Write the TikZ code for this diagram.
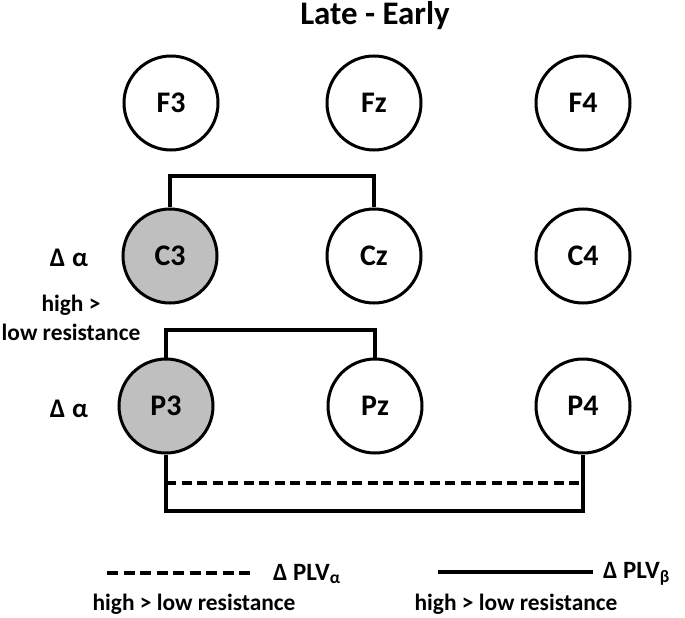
\documentclass[tikz,border=0pt]{standalone}
\usepackage{fontspec}
\setmainfont{Carlito}
\usepackage{tikz}
\usetikzlibrary{calc}

\tikzset{
  elec/.style={draw,circle,line width=3bp,minimum size=94bp,inner sep=0pt,
    font=\bfseries\fontsize{30}{30}\selectfont},
  active/.style={elec,fill=gray!50},
  link/.style={line width=4bp},
  lbl/.style={font=\bfseries\fontsize{25}{25}\selectfont,inner sep=0pt},
  note/.style={font=\bfseries\fontsize{23.5}{29}\selectfont,inner sep=0pt,align=center}
}

\begin{document}
\begin{tikzpicture}[x=1bp,y=-1bp]
\useasboundingbox (0,0) rectangle (685,618);

\node[font=\bfseries\fontsize{33}{33}\selectfont] (title) at (375,16) {Late - Early};

% electrodes
\node[elec] (F3) at (171,103) {F3};
\node[elec] (Fz) at (374,103) {Fz};
\node[elec] (F4) at (583,103) {F4};
\node[active] (C3) at (170,256) {C3};
\node[elec] (Cz) at (374,256) {Cz};
\node[elec] (C4) at (583,256) {C4};
\node[active] (P3) at (166,406) {P3};
\node[elec] (Pz) at (375,406) {Pz};
\node[elec] (P4) at (583,406) {P4};

\node[font=\bfseries\fontsize{27}{27}\selectfont,inner sep=0pt] (daC) at (69,258) {Δ\hspace{0.25em}α};
\node[font=\bfseries\fontsize{27}{27}\selectfont,inner sep=0pt] (daP) at (69,409) {Δ\hspace{0.25em}α};
\node[note] (hl) at (71,318) {high >\\low resistance};

% connections
\draw[link] (C3.north) |- ($(Cz.north)+(0,-31)$) -- (Cz.north);
\draw[link] (P3.north) |- ($(Pz.north)+(0,-28)$) -- (Pz.north);
\draw[link] (P3.south) |- ($(P4.south)+(0,56)$) -- (P4.south);
\draw[link,dash pattern=on 10bp off 5.5bp] ($(P3.south)+(0,28)$) -- ($(P4.south)+(0,28)$);

% legend
\coordinate (la1) at (107,573);
\coordinate (la2) at (255,573);
\coordinate (lb1) at (438,572);
\coordinate (lb2) at (593,572);
\draw[link,dash pattern=on 11bp off 5.5bp] (la1) -- (la2);
\draw[link] (lb1) -- (lb2);
\node[lbl,anchor=west] (pa) at (273,574) {Δ PLV\textsubscript{α}};
\node[lbl,anchor=west] (pb) at (603,574) {Δ PLV\textsubscript{β}};
\node[note] (na) at (194,604) {high > low resistance};
\node[note] (nb) at (516,604) {high > low resistance};
\end{tikzpicture}
\end{document}
